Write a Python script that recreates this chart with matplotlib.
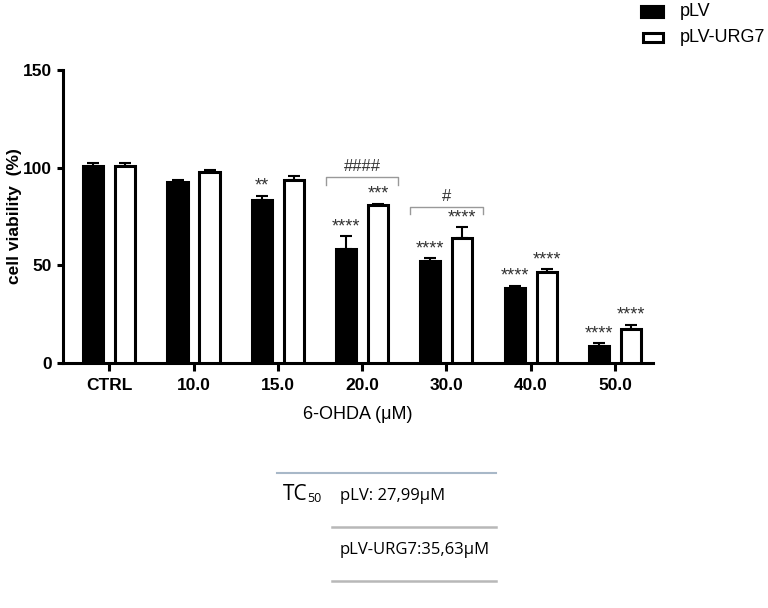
import numpy as np
import matplotlib.pyplot as plt

# data
groups = ['CTRL', '10.0', '15.0', '20.0', '30.0', '40.0', '50.0']
plv = [101, 92.5, 83.5, 58.5, 52, 38.5, 8.5]
plv_err = [1.5, 1, 2, 6.5, 1.5, 1, 1.5]
urg7 = [101, 98, 93.5, 81, 64, 46.5, 17.5]
urg7_err = [1.5, 0.8, 2, 0.5, 5.5, 1.5, 2]
plv_sig = ['', '', '**', '****', '****', '****', '****']
urg7_sig = ['', '', '', '***', '****', '****', '****']
brackets = [(3, 95, '####'), (4, 80, '#')]
tc50 = ['pLV: 27,99\u03bcM', 'pLV-URG7:35,63\u03bcM']

plt.rcParams['font.family'] = ['Liberation Sans', 'DejaVu Sans']

fig = plt.figure(figsize=(7.68, 6.08), dpi=100)
ax = fig.add_axes([0.0820, 0.403, 0.768, 0.482])

x = np.arange(len(groups))
w = 0.24
off = 0.19
lw = 2.2
ax.bar(x - off, plv, w, color='black', edgecolor='black', linewidth=lw, zorder=3)
ax.bar(x + off, urg7, w, color='white', edgecolor='black', linewidth=lw, zorder=3)
ax.errorbar(x - off, plv, yerr=[np.zeros(len(plv)), plv_err], fmt='none',
            ecolor='black', elinewidth=1.5, capsize=4, capthick=1.5, zorder=2)
ax.errorbar(x + off, urg7, yerr=[np.zeros(len(urg7)), urg7_err], fmt='none',
            ecolor='black', elinewidth=1.5, capsize=4, capthick=1.5, zorder=2)

for i in range(len(groups)):
    if plv_sig[i]:
        ax.text(x[i] - off, plv[i] + plv_err[i] + 0.5, plv_sig[i], ha='center',
                va='bottom', fontsize=13, color='#333333')
    if urg7_sig[i]:
        ax.text(x[i] + off, urg7[i] + urg7_err[i] + 0.5, urg7_sig[i], ha='center',
                va='bottom', fontsize=13, color='#333333')

for i, y, lab in brackets:
    ax.plot([i - 0.43, i - 0.43, i + 0.43, i + 0.43], [y - 4, y, y, y - 4],
            color='#999999', linewidth=1)
    ax.text(i, y + 1.5, lab, ha='center', va='bottom', fontsize=12, color='#333333')

ax.set_xlim(-0.55, 6.45)
ax.set_ylim(0, 150)
ax.set_yticks([0, 50, 100, 150])
ax.set_xticks(x)
ax.set_xticklabels(groups, fontweight='bold', fontsize=12.5)
for t in ax.get_yticklabels():
    t.set_fontweight('bold')
    t.set_fontsize(12.5)
ax.tick_params(axis='y', width=2.2, length=4, pad=4)
ax.tick_params(axis='x', width=2.2, length=6, pad=5)
ax.spines['top'].set_visible(False)
ax.spines['right'].set_visible(False)
ax.spines['left'].set_linewidth(2.2)
ax.spines['bottom'].set_linewidth(2.2)
ax.set_ylabel('cell viability  (%)', fontweight='bold', fontsize=12.5)
ax.yaxis.set_label_coords(-0.07, 0.5)
ax.set_xlabel('6-OHDA (\u03bcM)', fontsize=13, labelpad=9)

# legend drawn in figure space
fig.patches.append(plt.Rectangle((641 / 768, 1 - 18 / 608), 23 / 768, 12 / 608,
                                 transform=fig.transFigure, facecolor='black',
                                 edgecolor='black', linewidth=1.5))
fig.patches.append(plt.Rectangle((643 / 768, 1 - 42 / 608), 20 / 768, 9 / 608,
                                 transform=fig.transFigure, facecolor='white',
                                 edgecolor='black', linewidth=2.2))
fig.text(680 / 768, 1 - 12 / 608, 'pLV', fontsize=13, va='center')
fig.text(680 / 768, 1 - 37 / 608, 'pLV-URG7', fontsize=13, va='center')

# TC50 table
def fy(py):
    return 1 - py / 608

fig.add_artist(plt.Line2D([277 / 768, 496 / 768], [fy(473), fy(473)],
                          color='#a8b8c8', linewidth=1.5))
fig.add_artist(plt.Line2D([332 / 768, 496 / 768], [fy(527), fy(527)],
                          color='#b8b8b8', linewidth=1.8))
fig.add_artist(plt.Line2D([332 / 768, 496 / 768], [fy(581), fy(581)],
                          color='#b8b8b8', linewidth=1.8))
fig.text(283 / 768, fy(495), 'TC', fontsize=15, va='center', family='Open Sans')
fig.text(307 / 768, fy(498), '50', fontsize=9, va='center', family='Open Sans')
fig.text(340 / 768, fy(496), tc50[0], fontsize=12, va='center', family='Open Sans')
fig.text(340 / 768, fy(550), tc50[1], fontsize=12, va='center', family='Open Sans')

fig.savefig('out.png', dpi=100)
